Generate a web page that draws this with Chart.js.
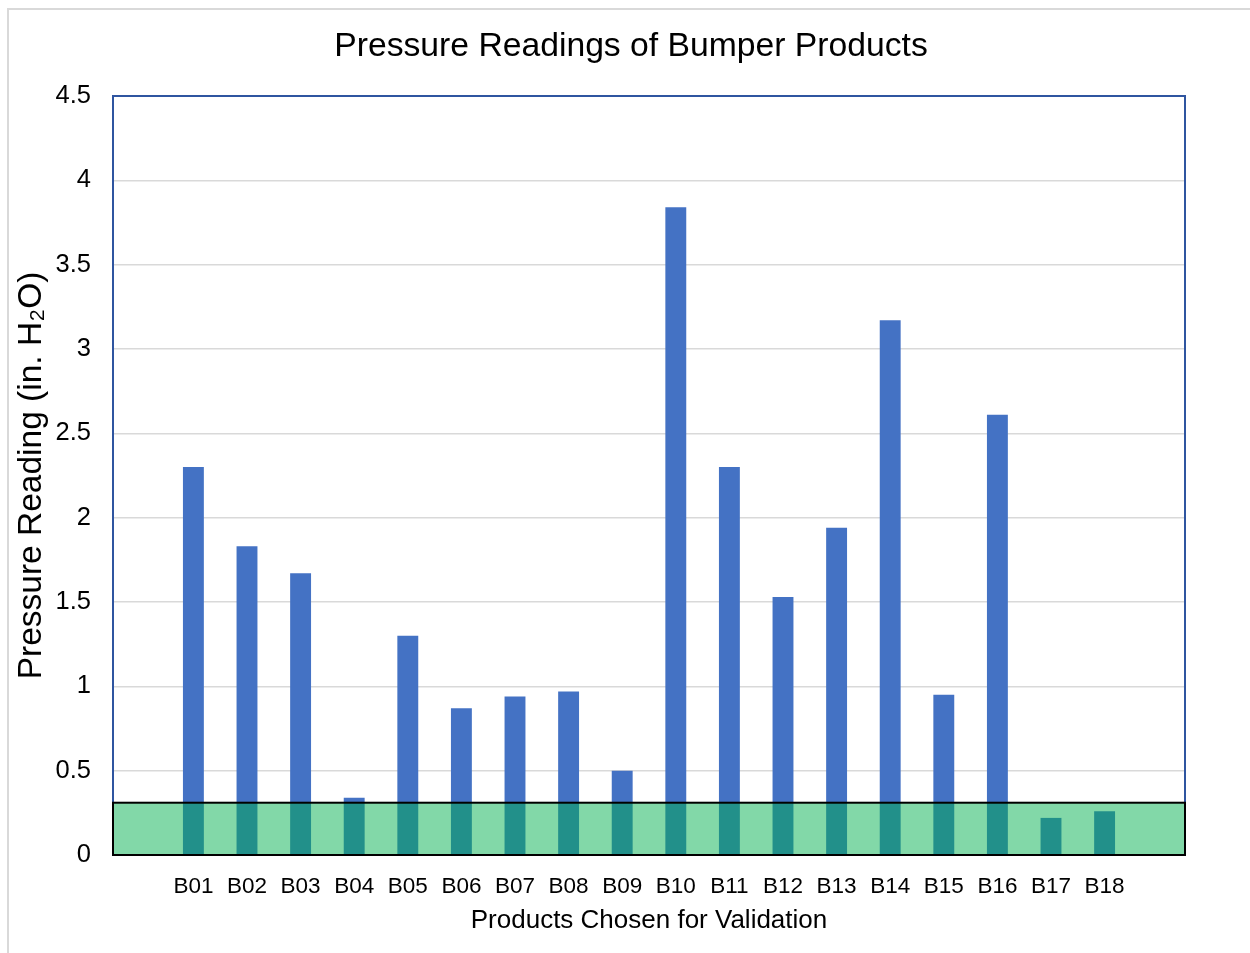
<!DOCTYPE html>
<html>
<head>
<meta charset="utf-8">
<script src="https://cdn.jsdelivr.net/npm/chart.js@4"></script>
<style>
  html, body { margin: 0; padding: 0; background: #fff; overflow: hidden; }
  #frame { position: absolute; left: 7px; top: 8px; width: 1400px; height: 1100px; border: 2px solid #d9d9d9; }
  #wrap { position: absolute; left: 0; top: 0; width: 1250px; height: 953px; }
</style>
</head>
<body>
<div id="frame"></div>
<div id="wrap"><canvas id="myChart"></canvas></div>
<script>
// first and last slots are empty, as in the original
const products = ["", "B01", "B02", "B03", "B04", "B05", "B06", "B07", "B08", "B09",
  "B10", "B11", "B12", "B13", "B14", "B15", "B16", "B17", "B18", ""];
const readings = [null, 2.30, 1.83, 1.67, 0.34, 1.30, 0.87, 0.94, 0.97, 0.50,
  3.84, 2.30, 1.53, 1.94, 3.17, 0.95, 2.61, 0.22, 0.26, null];
const bandTop = 0.31;
const yTicks = [0, 0.5, 1, 1.5, 2, 2.5, 3, 3.5, 4, 4.5];
const chartTitle = "Pressure Readings of Bumper Products";

const fontName = "'Liberation Sans', Arial, sans-serif";

// blue frame round the plot, the green band laid over the bars, and the title
// (centred on the whole canvas, not on the plot)
const overlay = {
    id: "overlay",
    afterDatasetsDraw(chart) {
        const ctx = chart.ctx;
        const a = chart.chartArea;
        const y = chart.scales.y;
        ctx.save();
        ctx.strokeStyle = "#2f55a0";
        ctx.lineWidth = 2;
        ctx.strokeRect(a.left, a.top, a.right - a.left, a.bottom - a.top);

        const y1 = y.getPixelForValue(bandTop);
        const y0 = y.getPixelForValue(0);
        ctx.fillStyle = "rgba(0,175,78,0.49)";
        ctx.fillRect(a.left, y1, a.right - a.left, y0 - y1);
        ctx.strokeStyle = "#000";
        ctx.lineWidth = 2;
        ctx.strokeRect(a.left, y1, a.right - a.left, y0 - y1);

        ctx.fillStyle = "#000";
        ctx.font = "33.7px " + fontName;
        ctx.textAlign = "center";
        ctx.textBaseline = "middle";
        ctx.fillText(chartTitle, chart.width / 2 + 6, 47);
        ctx.restore();
    }
};

new Chart("myChart", {
    type: "bar",
    data: {
        labels: products,
        datasets: [{
            data: readings,
            backgroundColor: "#4472c4",
            borderWidth: 0,
            barPercentage: 0.39,
            categoryPercentage: 1
        }]
    },
    plugins: [overlay],
    options: {
        responsive: true,
        maintainAspectRatio: false,
        animation: false,
        layout: { padding: { left: 10, right: 65, top: 96, bottom: 17 } },
        plugins: {
            legend: { display: false },
            tooltip: { enabled: false },
            title: { display: false }
        },
        scales: {
            x: {
                grid: { display: false },
                border: { display: false },
                ticks: {
                    color: "#000",
                    font: { family: fontName, size: 22.5 },
                    padding: 10,
                    maxRotation: 0,
                    autoSkip: false
                },
                title: {
                    display: true,
                    text: "Products Chosen for Validation",
                    color: "#000",
                    font: { family: fontName, size: 26 },
                    padding: 0
                },
                afterFit: s => { s.height = 953 - 855 - 17; }
            },
            y: {
                min: 0,
                max: 4.5,
                grid: { color: "#d9d9d9", lineWidth: 1.5, drawTicks: false },
                border: { display: false },
                afterBuildTicks: s => { s.ticks = yTicks.map(v => ({ value: v })); },
                ticks: {
                    color: "#000",
                    font: { family: fontName, size: 25.5 },
                    padding: 22,
                    callback: v => String(v)
                },
                title: {
                    display: true,
                    text: "Pressure Reading (in. H\u2082O)",
                    color: "#000",
                    font: { family: fontName, size: 33.5 },
                    padding: { top: 2, bottom: 0 }
                },
                afterFit: s => { s.width = 103; }
            }
        }
    }
});
</script>
</body>
</html>
